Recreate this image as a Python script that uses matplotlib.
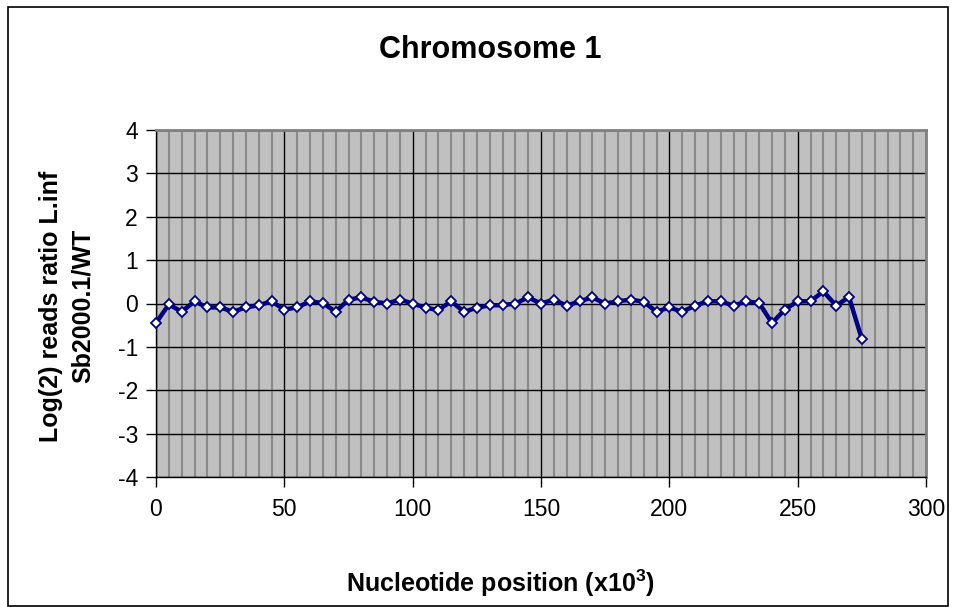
import matplotlib
matplotlib.use("Agg")
import matplotlib.pyplot as plt
from matplotlib.patches import Rectangle
from matplotlib.ticker import MultipleLocator

plt.rcParams['font.family'] = ['Liberation Sans', 'DejaVu Sans']
plt.rcParams['axes.unicode_minus'] = False

positions = [0, 5, 10, 15, 20, 25, 30, 35, 40, 45, 50, 55, 60, 65, 70, 75,
             80, 85, 90, 95, 100, 105, 110, 115, 120, 125, 130, 135, 140, 145,
             150, 155, 160, 165, 170, 175, 180, 185, 190, 195, 200, 205, 210,
             215, 220, 225, 230, 235, 240, 245, 250, 255, 260, 265, 270, 275]
log_ratio = [-0.45, -0.02, -0.19, 0.05, -0.09, -0.09, -0.19, -0.09, -0.04, 0.05,
             -0.14, -0.09, 0.05, 0.01, -0.19, 0.09,
             0.14, 0.04, 0.00, 0.09, 0.00, -0.10, -0.15, 0.05, -0.19, -0.10,
             -0.04, -0.04, 0.00, 0.14,
             0.00, 0.09, -0.05, 0.05, 0.14, 0.00, 0.05, 0.09, 0.04, -0.19,
             -0.09, -0.19, -0.05, 0.05, 0.05, -0.05, 0.05, 0.01, -0.45, -0.14,
             0.05, 0.05, 0.28, -0.05, 0.15, -0.82]

title = "Chromosome 1"
xlabel = "Nucleotide position (x10$^\\mathregular{3}$)"
ylabel = "Log(2) reads ratio L.inf\nSb2000.1/WT"
xticks = [0, 50, 100, 150, 200, 250, 300]
yticks = [-4, -3, -2, -1, 0, 1, 2, 3, 4]

fig = plt.figure(figsize=(9.57, 6.07), dpi=100)
fig.patch.set_facecolor('white')
ax = fig.add_axes([156/957, 1-477/607, (926-156)/957, (477-130)/607])
ax.set_facecolor('#C0C0C0')

ax.set_xlim(0, 300)
ax.set_ylim(-4, 4)
ax.set_xticks(xticks)
ax.set_yticks(yticks)
ax.xaxis.set_minor_locator(MultipleLocator(5))

ax.grid(which='minor', axis='x', color='#8A8A8A', linewidth=1.5, zorder=0)
ax.grid(which='major', axis='both', color='black', linewidth=1.0, zorder=0.5)
ax.set_axisbelow(True)

ax.plot(positions, log_ratio, color='#000080', linewidth=3.2,
        marker='D', markersize=5.5, markerfacecolor='white',
        markeredgecolor='#000080', markeredgewidth=1.3, zorder=3,
        clip_on=False)

for s in ['top', 'right']:
    ax.spines[s].set_color('#808080')
    ax.spines[s].set_linewidth(2)
for s in ['left', 'bottom']:
    ax.spines[s].set_color('black')
    ax.spines[s].set_linewidth(1)

ax.tick_params(which='major', direction='out', length=7, width=1, color='black',
               labelsize=16.5)
ax.tick_params(axis='y', pad=6)
ax.tick_params(axis='x', pad=8)
ax.tick_params(which='minor', length=0)

fig.text(490/957, 1-50/607, title, ha='center', va='center',
         fontsize=22, fontweight='bold')
fig.text(500/957, 1-583/607, xlabel, ha='center', va='center',
         fontsize=18, fontweight='bold')
fig.text(67/957, 1-306/607, ylabel, ha='center', va='center', rotation=90,
         fontsize=18, fontweight='bold', multialignment='center',
         linespacing=1.45)

fig.add_artist(Rectangle((8/957, 1-606/607), (948-8)/957, (606-7)/607,
                         transform=fig.transFigure, fill=False,
                         edgecolor='black', linewidth=1.2))

fig.savefig('out.png', dpi=100)
